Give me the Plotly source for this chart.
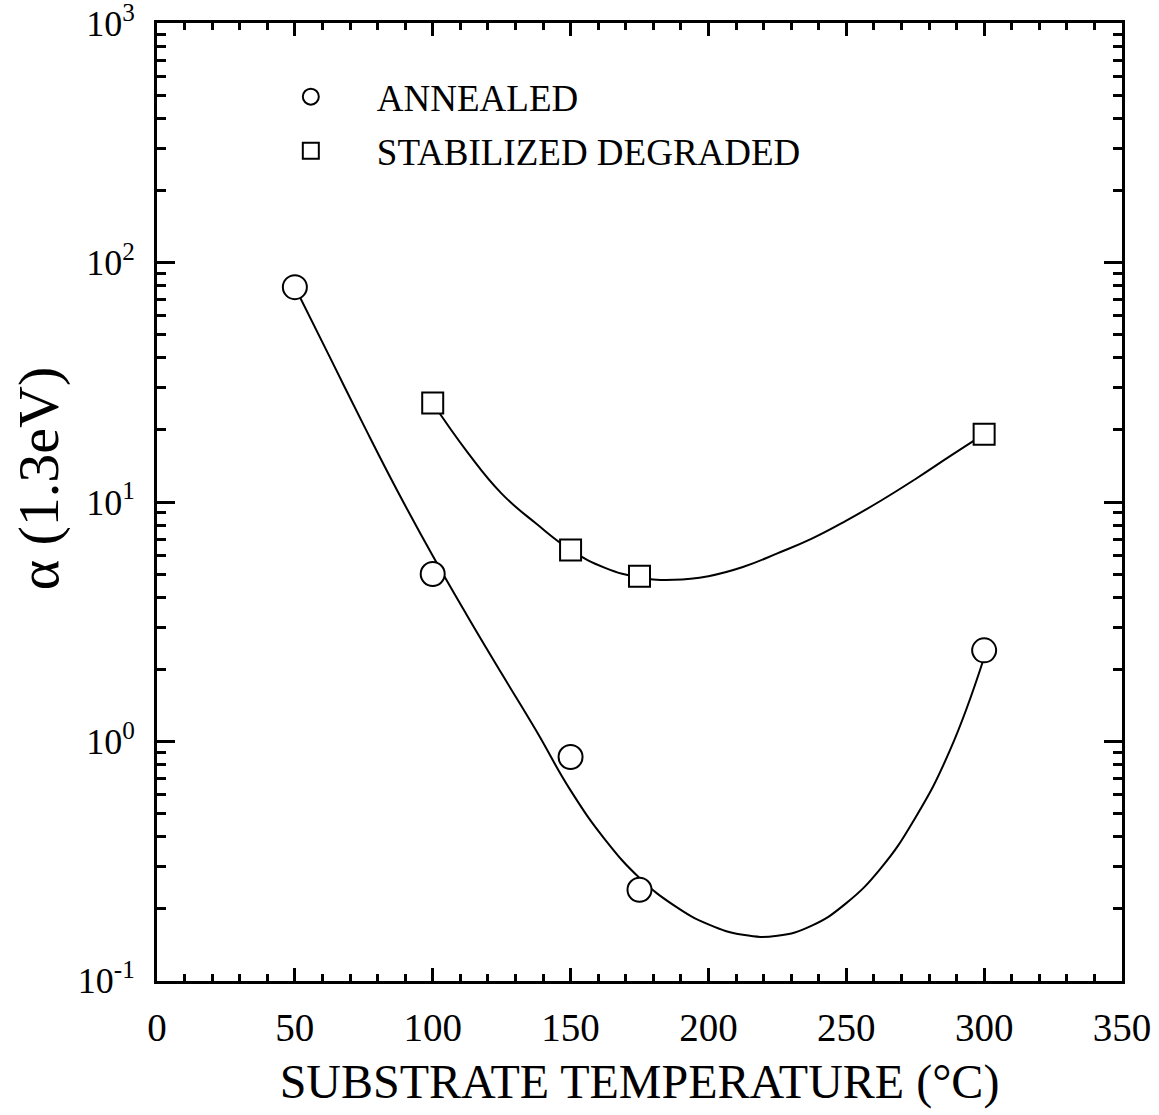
import plotly.graph_objects as go

# Measured points
temp_annealed = [50, 100, 150, 175, 300]
alpha_annealed = [79.0, 5.0, 0.86, 0.24, 2.4]

temp_stabilized = [100, 150, 175, 300]
alpha_stabilized = [25.9, 6.3, 4.9, 19.2]

# Smooth guide curves through the data (sampled every 12.5 degC)
fit_annealed_x = [50, 62.5, 75, 87.5, 100, 112.5, 125, 137.5, 150, 162.5, 175, 187.5,
                  200, 212.5, 225, 237.5, 250, 262.5, 275, 287.5, 300]
fit_annealed_y = [79.1, 40.7, 20.9, 10.96, 5.96, 3.35, 1.92, 1.11, 0.624, 0.389, 0.269,
                  0.2065, 0.172, 0.1556, 0.1542, 0.170, 0.211, 0.295, 0.479, 0.912, 2.24]

fit_stabilized_x = [100, 112.5, 125, 137.5, 150, 162.5, 175, 187.5, 200, 212.5, 225,
                    237.5, 250, 262.5, 275, 287.5, 300]
fit_stabilized_y = [25.9, 16.2, 10.84, 8.13, 6.31, 5.31, 4.84, 4.73, 4.90, 5.35, 6.10,
                    7.03, 8.36, 10.12, 12.45, 15.5, 19.2]

x_ticks = [0, 50, 100, 150, 200, 250, 300, 350]
y_ticks = [0.1, 1, 10, 100, 1000]
y_tick_text = ["10<sup>-1</sup>", "10<sup>0</sup>", "10<sup>1</sup>",
               "10<sup>2</sup>", "10<sup>3</sup>"]

FONT = "Liberation Serif, Times New Roman, serif"

fig = go.Figure()

curve_line = dict(color="black", width=2, shape="spline", smoothing=1.3)
fig.add_trace(go.Scatter(x=fit_annealed_x, y=fit_annealed_y, mode="lines",
                         line=curve_line, showlegend=False, hoverinfo="skip"))
fig.add_trace(go.Scatter(x=fit_stabilized_x, y=fit_stabilized_y, mode="lines",
                         line=curve_line, showlegend=False, hoverinfo="skip"))

fig.add_trace(go.Scatter(x=temp_annealed, y=alpha_annealed, mode="markers",
                         name="ANNEALED", legendgroup="a",
                         marker=dict(symbol="circle", size=24, color="white",
                                     line=dict(color="black", width=2))))
fig.add_trace(go.Scatter(x=temp_stabilized, y=alpha_stabilized, mode="markers",
                         name="STABILIZED DEGRADED", legendgroup="b",
                         marker=dict(symbol="square", size=21, color="white",
                                     line=dict(color="black", width=2))))

fig.update_layout(
    width=1159, height=1115,
    margin=dict(l=157, r=37, t=23, b=134),
    paper_bgcolor="white", plot_bgcolor="white",
    font=dict(family=FONT, color="black"),
    legend=dict(x=0.091, y=0.955, xanchor="left", yanchor="top",
                font=dict(size=37, family=FONT), bgcolor="rgba(0,0,0,0)",
                itemwidth=122, tracegroupgap=3, traceorder="grouped",
                itemsizing="trace"),
    annotations=[dict(text="α (1.3eV)", textangle=-90, showarrow=False,
                      xref="paper", yref="paper", x=-0.123, y=0.525,
                      xanchor="center", yanchor="middle",
                      font=dict(size=58, family=FONT, color="black"))],
)

fig.update_xaxes(
    range=[0, 350], tickvals=x_ticks,
    showgrid=False, zeroline=False, automargin=False,
    showline=True, linecolor="black", linewidth=3, mirror="allticks",
    ticks="inside", ticklen=13, tickwidth=2.5, tickcolor="black",
    tickfont=dict(size=39, family=FONT), ticklabelstandoff=10,
    ticklabeloverflow="allow",
    minor=dict(ticks="inside", dtick=10, ticklen=7, tickwidth=2.5, tickcolor="black",
               showgrid=False),
    title=dict(text="SUBSTRATE TEMPERATURE (°C)", font=dict(size=48, family=FONT),
               standoff=17),
)

fig.update_yaxes(
    type="log", range=[-1.001, 3.001], tickvals=y_ticks, ticktext=y_tick_text,
    showgrid=False, zeroline=False, automargin=False,
    showline=True, linecolor="black", linewidth=3, mirror="allticks",
    ticks="inside", ticklen=18, tickwidth=2.5, tickcolor="black",
    tickfont=dict(size=36, family=FONT), ticklabelstandoff=12,
    ticklabeloverflow="allow",
    minor=dict(ticks="inside", dtick="D1", ticklen=9, tickwidth=2.5, tickcolor="black",
               showgrid=False),
)

fig.write_html("out.html")
